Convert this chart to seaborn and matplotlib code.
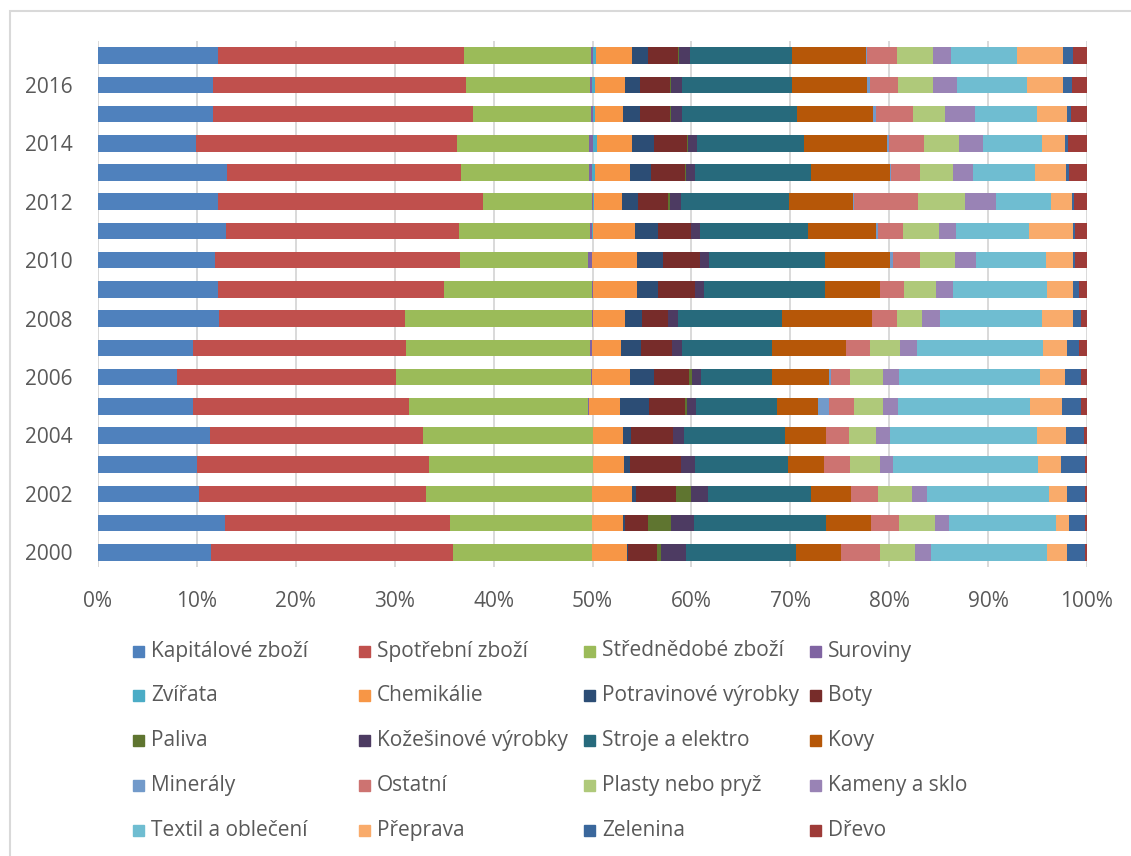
import numpy as np
import pandas as pd
import matplotlib
matplotlib.use('Agg')
import matplotlib.pyplot as plt
from matplotlib.patches import Rectangle
import seaborn as sns

#%% data (shares in %, years 2000..2017)

years = [2000, 2001, 2002, 2003, 2004, 2005, 2006, 2007, 2008,
         2009, 2010, 2011, 2012, 2013, 2014, 2015, 2016, 2017]

kapitalove = [11.4, 12.9, 10.2, 10.0, 11.3, 9.6, 8.0, 9.6, 12.2, 12.1, 11.8, 12.9, 12.1, 13.0, 9.9, 11.6, 11.6, 12.1]
spotrebni = [24.5, 22.7, 23.0, 23.5, 21.6, 21.8, 22.2, 21.5, 18.9, 22.8, 24.8, 23.6, 26.7, 23.7, 26.3, 26.2, 25.6, 24.9]
strednedobe = [14.1, 14.4, 16.8, 16.5, 17.1, 18.1, 19.7, 18.6, 18.9, 15.0, 13.0, 13.2, 11.0, 12.9, 13.3, 11.9, 12.6, 12.8]
suroviny = [0, 0, 0, 0, 0.1, 0.1, 0.1, 0.2, 0.1, 0.1, 0.4, 0.2, 0.2, 0.3, 0.4, 0.3, 0.2, 0.2]
zvirata = [0, 0, 0, 0, 0, 0, 0, 0, 0, 0, 0, 0.1, 0.1, 0.3, 0.4, 0.2, 0.3, 0.3]
chemikalie = [3.5, 3.1, 4.0, 3.2, 3.0, 3.2, 3.8, 3.0, 3.2, 4.4, 4.6, 4.2, 2.8, 3.5, 3.5, 2.8, 3.0, 3.6]
potravinove = [0.1, 0.2, 0.5, 0.6, 0.8, 2.9, 2.5, 2.0, 1.8, 2.2, 2.6, 2.4, 1.6, 2.2, 2.2, 1.7, 1.5, 1.7]
boty = [3.0, 2.4, 4.0, 5.1, 4.2, 3.7, 3.5, 3.1, 2.6, 3.7, 3.7, 3.3, 3.0, 3.4, 3.4, 3.0, 3.1, 3.0]
paliva = [0.4, 2.3, 1.5, 0, 0, 0.2, 0.3, 0, 0, 0, 0, 0, 0.2, 0.1, 0.1, 0.1, 0.05, 0.1]
kozesinove = [2.5, 2.3, 1.7, 1.5, 1.2, 0.9, 0.9, 1.0, 1.0, 0.9, 0.9, 0.9, 1.1, 0.9, 0.9, 1.1, 1.1, 1.1]
stroje = [11.1, 13.4, 10.5, 9.4, 10.2, 8.2, 7.2, 9.2, 10.5, 12.2, 11.8, 10.9, 10.9, 11.7, 10.8, 11.6, 11.2, 10.3]
kovy = [4.6, 4.5, 4.0, 3.6, 4.1, 4.1, 5.8, 7.4, 9.1, 5.6, 6.6, 6.9, 6.5, 8.0, 8.3, 7.7, 7.5, 7.5]
mineraly = [0, 0, 0, 0, 0, 1.1, 0.2, 0, 0, 0, 0.3, 0.2, 0.1, 0.1, 0.2, 0.3, 0.3, 0.1]
ostatni = [3.9, 2.9, 2.7, 2.6, 2.3, 2.5, 1.9, 2.5, 2.6, 2.4, 2.7, 2.5, 6.4, 2.9, 3.6, 3.7, 2.9, 3.0]
plasty = [3.6, 3.6, 3.5, 3.1, 2.8, 3.0, 3.4, 3.0, 2.5, 3.2, 3.5, 3.6, 4.8, 3.4, 3.5, 3.3, 3.5, 3.6]
kameny = [1.6, 1.4, 1.5, 1.3, 1.4, 1.5, 1.6, 1.7, 1.8, 1.8, 2.2, 1.8, 3.1, 2.0, 2.4, 3.0, 2.4, 1.9]
textil = [11.8, 10.9, 12.4, 14.6, 14.8, 13.3, 14.2, 12.8, 10.3, 9.5, 7.1, 7.3, 5.6, 6.2, 6.0, 6.3, 7.1, 6.6]
preprava = [2.0, 1.3, 1.8, 2.4, 3.0, 3.3, 2.6, 2.4, 3.2, 2.6, 2.7, 4.5, 2.1, 3.2, 2.3, 3.0, 3.7, 4.7]
zelenina = [1.8, 1.6, 1.8, 2.4, 1.8, 1.9, 1.6, 1.2, 0.8, 0.6, 0.2, 0.2, 0.2, 0.3, 0.3, 0.4, 0.9, 1.0]
drevo = [0.2, 0.2, 0.2, 0.2, 0.3, 0.6, 0.6, 0.8, 0.6, 0.8, 1.2, 1.2, 1.3, 1.8, 1.9, 1.6, 1.5, 1.4]

names = ["Kapitálové zboží", "Spotřební zboží", "Střednědobé zboží", "Suroviny",
         "Zvířata", "Chemikálie", "Potravinové výrobky", "Boty",
         "Paliva", "Kožešinové výrobky", "Stroje a elektro", "Kovy",
         "Minerály", "Ostatní", "Plasty nebo pryž", "Kameny a sklo",
         "Textil a oblečení", "Přeprava", "Zelenina", "Dřevo"]
series = [kapitalove, spotrebni, strednedobe, suroviny, zvirata, chemikalie,
          potravinove, boty, paliva, kozesinove, stroje, kovy, mineraly,
          ostatni, plasty, kameny, textil, preprava, zelenina, drevo]
colors = ['#4F81BD', '#C0504D', '#9BBB59', '#8064A2', '#4BACC6', '#F79646',
          '#2C4D75', '#772C2A', '#5F7530', '#4D3B62', '#276A7C', '#B65708',
          '#729ACA', '#CD7371', '#AFC97A', '#9983B5', '#6FBDD1', '#F9AB6B',
          '#3A679C', '#9E3B38']

#%% 100% stacked -> cumulative shares

df = pd.DataFrame(dict(zip(names, series)))
df = df.div(df.sum(axis=1), axis=0) * 100
cum = df.cumsum(axis=1)
cum["Rok"] = [str(y) for y in years]
order = [str(y) for y in years[::-1]]

sns.set_style("white")
plt.rcParams['font.family'] = ['Open Sans', 'DejaVu Sans']
txtcol = '#595959'

fig = plt.figure(figsize=(11.31, 8.56), dpi=100)
ax = fig.add_axes([98/1131, 1-567/856, 989/1131, 526/856])

# draw from the last series backwards so each cumulative bar covers the next
for k in range(len(names)-1, -1, -1):
    sns.barplot(data=cum, x=names[k], y="Rok", order=order, orient='h',
                color=colors[k], saturation=1, width=0.57, linewidth=0,
                errorbar=None, ax=ax)

ax.set_xlim(0, 100)
ax.set_ylim(17.5, -0.5)
ax.set_xticks(np.arange(0, 101, 10))
ax.set_xticklabels([f"{v}%" for v in range(0, 101, 10)], color=txtcol, fontsize=15)
ax.set_yticks(np.arange(len(order)))
ax.set_yticklabels([y if int(y) % 2 == 0 else "" for y in order], color=txtcol, fontsize=15)
ax.tick_params(axis='x', length=0, pad=17)
ax.tick_params(axis='y', length=0, pad=18)
ax.set_xlabel("")
ax.set_ylabel("")
ax.set_axisbelow(True)
ax.grid(axis='x', color='#D9D9D9', linewidth=1.4)
ax.grid(axis='y', visible=False)
for s in ax.spines.values():
    s.set_visible(False)

# legend laid out like the original: 4 equal columns, row by row
for i, name in enumerate(names):
    r, c = divmod(i, 4)
    x0 = 133 + c*225.7
    yc = 651 + r*44.8
    fig.patches.append(Rectangle((x0/1131, 1-(yc+5.5)/856), 11/1131, 11/856,
                                 transform=fig.transFigure, color=colors[i]))
    fig.text((x0+18)/1131, 1-yc/856, name, color=txtcol, fontsize=15,
             va='center', ha='left')

# chart area border (only the top and left edges fall inside the image)
fig.patches.append(Rectangle((10/1131, -0.1), 1.2, 1.1-11/856, transform=fig.transFigure,
                             fill=False, edgecolor='#D9D9D9', linewidth=1.5))

fig.savefig("out.png", dpi=100)
